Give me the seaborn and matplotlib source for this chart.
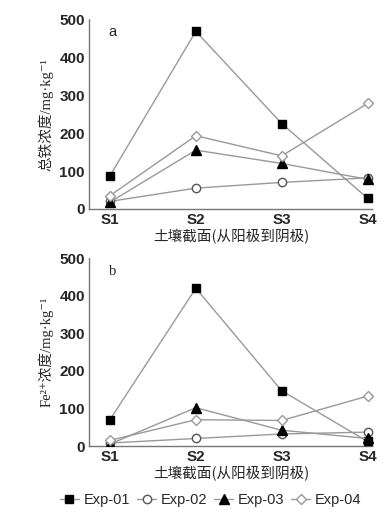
import matplotlib
matplotlib.use("Agg")
import matplotlib.pyplot as plt
import seaborn as sns
import pandas as pd
from matplotlib.lines import Line2D

sections = ["S1", "S2", "S3", "S4"]
series_names = ["Exp-01", "Exp-02", "Exp-03", "Exp-04"]

# Panel a: total iron
total_exp01 = [87, 468, 225, 28]
total_exp02 = [20, 55, 70, 82]
total_exp03 = [18, 155, 120, 78]
total_exp04 = [35, 193, 140, 278]

# Panel b: Fe2+
fe2_exp01 = [70, 420, 147, 12]
fe2_exp02 = [8, 20, 32, 37]
fe2_exp03 = [5, 102, 42, 20]
fe2_exp04 = [15, 70, 68, 133]

sns.set_theme(style="white")
plt.rcParams['font.family'] = ['Liberation Sans', 'Noto Sans CJK SC']

styles = {
    "Exp-01": dict(marker="s", mfc="black", mec="black", ms=6),
    "Exp-02": dict(marker="o", mfc="white", mec="#555555", ms=6),
    "Exp-03": dict(marker="^", mfc="black", mec="black", ms=6.5),
    "Exp-04": dict(marker="D", mfc="white", mec="#999999", ms=5),
}

fig = plt.figure(figsize=(3.9, 5.13), dpi=100)
ax_a = fig.add_axes([0.228, 0.5926, 0.728, 0.370])
ax_b = fig.add_axes([0.228, 0.1306, 0.728, 0.366])

def draw(ax, data, ylabel, letter, letter_font):
    for name, vals in zip(series_names, data):
        df = pd.DataFrame({"x": list(range(4)), "y": vals})
        st = styles[name]
        sns.lineplot(data=df, x="x", y="y", ax=ax, color="#999999", lw=1.0,
                     marker=st["marker"], markerfacecolor=st["mfc"],
                     markeredgecolor=st["mec"], markersize=st["ms"],
                     markeredgewidth=1.0, zorder=3)
    ax.set_xlim(-0.244, 3.06)
    ax.set_ylim(0, 500)
    ax.set_xticks(range(4))
    ax.set_xticklabels(sections, fontsize=11, fontweight="bold")
    ax.set_yticks([0, 100, 200, 300, 400, 500])
    ax.set_yticklabels(["0", "100", "200", "300", "400", "500"], fontsize=11, fontweight="bold")
    ax.tick_params(axis="both", direction="in", length=3, width=0.8, color="#666666", pad=3)
    for s in ["top", "right"]:
        ax.spines[s].set_visible(False)
    for s in ["left", "bottom"]:
        ax.spines[s].set_color("#777777")
        ax.spines[s].set_linewidth(1.0)
        ax.spines[s].set_linestyle((0, (1.5, 1)))
    ax.set_xlabel("土壤截面(从阳极到阴极)", fontsize=10.5,
                  family=['Noto Sans CJK SC', 'DejaVu Sans'], labelpad=1)
    ax.set_ylabel(ylabel, fontsize=10.5, family=['Liberation Serif', 'Noto Sans CJK SC', 'DejaVu Serif'],
                  labelpad=4)
    ax.text(0.07, 0.93, letter, transform=ax.transAxes, fontsize=10.5,
            family=letter_font, ha="left", va="center")
    ax.grid(False)

draw(ax_a, [total_exp01, total_exp02, total_exp03, total_exp04],
     "总铁浓度/mg·kg⁻¹", "a", ['Liberation Sans'])
draw(ax_b, [fe2_exp01, fe2_exp02, fe2_exp03, fe2_exp04],
     "Fe²⁺浓度/mg·kg⁻¹", "b", ['Liberation Serif'])

handles = []
for name in series_names:
    st = styles[name]
    handles.append(Line2D([0], [0], color="#999999", lw=1.0, marker=st["marker"],
                          markerfacecolor=st["mfc"], markeredgecolor=st["mec"],
                          markersize=st["ms"]))
fig.legend(handles, series_names, loc="center", bbox_to_anchor=(0.54, 0.026),
           ncol=4, frameon=False, fontsize=10.5, handlelength=1.3, handletextpad=0.3,
           columnspacing=0.5)

fig.savefig("out.png", dpi=100)
